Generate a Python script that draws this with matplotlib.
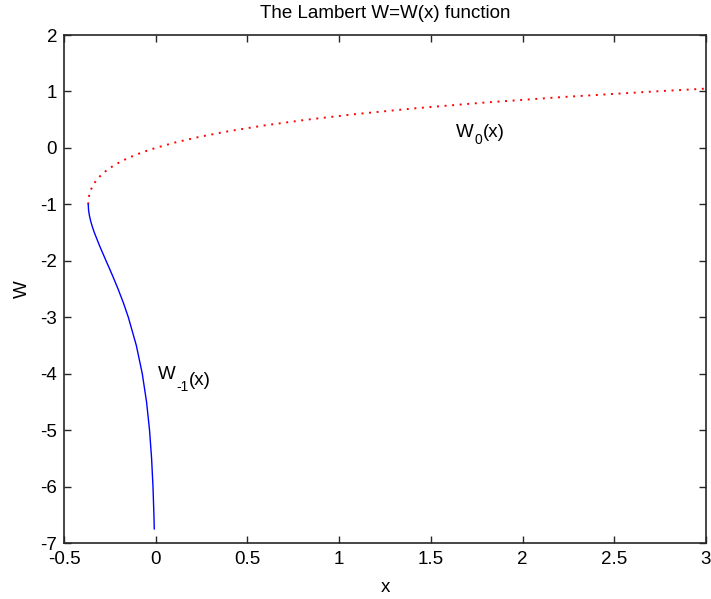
import matplotlib
matplotlib.use("Agg")
import matplotlib.pyplot as plt
from matplotlib.transforms import offset_copy

plt.rcParams['font.family'] = ['Liberation Sans', 'DejaVu Sans']

# Principal branch W0
w0_x = [-0.3679, -0.3674, -0.3659, -0.3633, -0.3595, -0.3543, -0.3476, -0.3393,
        -0.3293, -0.3173, -0.3033, -0.2869, -0.2681, -0.2466, -0.2222, -0.1947,
        -0.1637, -0.1291, -0.0905, -0.0476, 0.0, 0.1105, 0.2443, 0.4050, 0.5967,
        0.8244, 1.0933, 1.4096, 1.7804, 2.2136, 2.7183, 3.0]
w0_w = [-1.00, -0.95, -0.90, -0.85, -0.80, -0.75, -0.70, -0.65,
        -0.60, -0.55, -0.50, -0.45, -0.40, -0.35, -0.30, -0.25,
        -0.20, -0.15, -0.10, -0.05, 0.0, 0.10, 0.20, 0.30, 0.40,
        0.50, 0.60, 0.70, 0.80, 0.90, 1.00, 1.05]

# Lower branch W-1
wm1_x = [-0.3679, -0.3662, -0.3614, -0.3543, -0.3452, -0.3347, -0.3041, -0.2707,
         -0.2371, -0.2052, -0.1757, -0.1494, -0.1057, -0.0733, -0.0500, -0.0337,
         -0.0225, -0.0149, -0.0098, -0.0079]
wm1_w = [-1.0, -1.1, -1.2, -1.3, -1.4, -1.5, -1.75, -2.0,
         -2.25, -2.5, -2.75, -3.0, -3.5, -4.0, -4.5, -5.0,
         -5.5, -6.0, -6.5, -6.75]

x_ticks = [-0.5, 0, 0.5, 1, 1.5, 2, 2.5, 3]
x_tick_labels = ['-0.5', '0', '0.5', '1', '1.5', '2', '2.5', '3']
y_ticks = [-7, -6, -5, -4, -3, -2, -1, 0, 1, 2]
y_tick_labels = ['-7', '-6', '-5', '-4', '-3', '-2', '-1', '0', '1', '2']

title_text = 'The Lambert W=W(x) function'
xlabel_text = 'x'
ylabel_text = 'W'
# label pieces: (text, is_subscript)
label_w0 = [('W', False), ('0', True), ('(x)', False)]
label_wm1 = [('W', False), ('-1', True), ('(x)', False)]

FS = 13.5
SUB_FS = 10
fig = plt.figure(figsize=(7.11, 5.99), dpi=100)
ax = fig.add_axes([64/711, (599-543)/599, (706-64)/711, (543-35)/599])

ax.plot(w0_x, w0_w, color='red', linewidth=1.4, linestyle=(0, (1, 2.9)),
        dash_capstyle='butt')
ax.plot(wm1_x, wm1_w, color='blue', linewidth=1.0)

ax.set_xlim(-0.5, 3)
ax.set_ylim(-7, 2)

renderer = fig.canvas.get_renderer()


def chained_label(x, y, pieces, sub_dy, after_dy, gap=0.5):
    """Draw text pieces one after another, subscripts lowered (pixels)."""
    dx = 0.0
    seen_sub = False
    for txt, is_sub in pieces:
        if is_sub:
            dy = -sub_dy
            fs = SUB_FS
            seen_sub = True
        else:
            dy = -after_dy if seen_sub else 0.0
            fs = FS
        tr = offset_copy(ax.transData, fig=fig, x=dx, y=dy, units='dots')
        t = ax.text(x, y, txt, fontsize=fs, ha='left', va='baseline',
                    transform=tr)
        bb = t.get_window_extent(renderer)
        dx += bb.width + gap


chained_label(1.637, 0.20, label_w0, sub_dy=7.5, after_dy=0.0)
chained_label(0.014, -4.10, label_wm1, sub_dy=12.0, after_dy=5.5)

ax.set_xticks(x_ticks)
ax.set_xticklabels(x_tick_labels)
ax.set_yticks(y_ticks)
ax.set_yticklabels(y_tick_labels)

ax.tick_params(direction='in', length=5, width=1.0, colors='#262626',
               labelcolor='black', labelsize=FS, top=True, right=True)
ax.tick_params(axis='x', pad=6)
ax.tick_params(axis='y', pad=5)
for s in ax.spines.values():
    s.set_linewidth(1.2)
    s.set_color('#262626')

ax.set_title(title_text, fontsize=FS, pad=12)
ax.set_xlabel(xlabel_text, fontsize=FS, labelpad=8)
ax.set_ylabel(ylabel_text, fontsize=FS, labelpad=7)

fig.savefig('out.png', dpi=100)
